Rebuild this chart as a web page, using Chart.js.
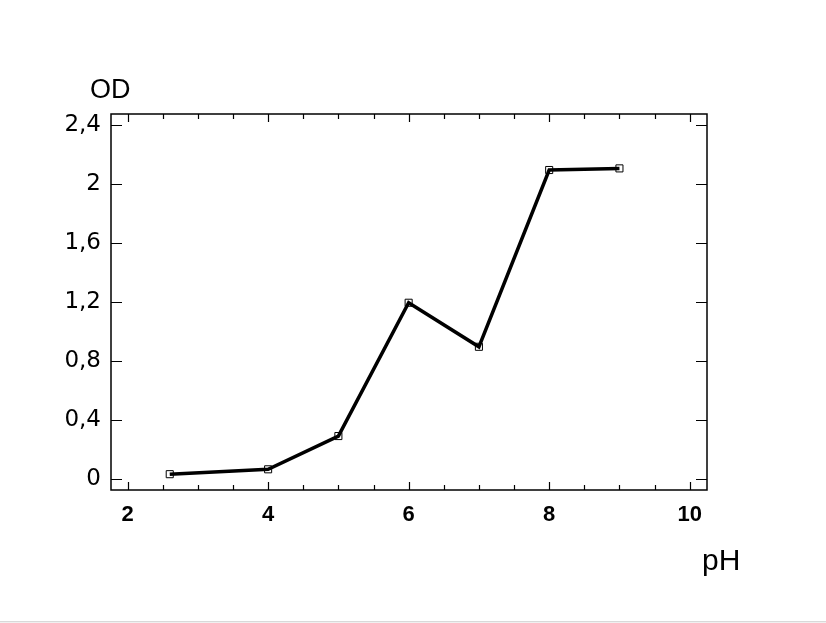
<!DOCTYPE html>
<html>
<head>
<meta charset="utf-8">
<script src="https://cdn.jsdelivr.net/npm/chart.js@4.4.1/dist/chart.umd.min.js"></script>
<style>
  html, body { margin: 0; padding: 0; background: #f0f0f0; }
  #wrap { width: 826px; height: 621px; background: #fff; border-bottom: 1px solid #d9d9d9; position: relative; }
  canvas { display: block; }
</style>
</head>
<body>
<div id="wrap"><canvas id="c" width="826" height="621"></canvas></div>
<script>
// Data
const phValues = [2.6, 4, 5, 6, 7, 8, 9];
const odValues = [0.035, 0.068, 0.293, 1.195, 0.897, 2.093, 2.104];
const xTickValues = [2, 4, 6, 8, 10];
const xMinorTickValues = [2.5, 3, 3.5, 4.5, 5, 5.5, 6.5, 7, 7.5, 8.5, 9, 9.5];
const yTickValues = [0, 0.4, 0.8, 1.2, 1.6, 2, 2.4];
const xTitle = 'pH';
const yTitle = 'OD';

const framePlugin = {
  id: 'frame',
  afterDatasetsDraw(chart) {
    const { ctx, chartArea: a, scales } = chart;
    const xs = scales.x, ys = scales.y;
    ctx.save();
    ctx.strokeStyle = '#000';
    ctx.lineWidth = 1.5;
    ctx.strokeRect(a.left, a.top, a.right - a.left, a.bottom - a.top);
    ctx.lineWidth = 1.2;
    ctx.beginPath();
    xTickValues.forEach(v => {
      const px = Math.round(xs.getPixelForValue(v)) + 0.5;
      ctx.moveTo(px, a.bottom); ctx.lineTo(px, a.bottom - 8);
      ctx.moveTo(px, a.top); ctx.lineTo(px, a.top + 8);
    });
    xMinorTickValues.forEach(v => {
      const px = Math.round(xs.getPixelForValue(v)) + 0.5;
      ctx.moveTo(px, a.bottom); ctx.lineTo(px, a.bottom - 5);
      ctx.moveTo(px, a.top); ctx.lineTo(px, a.top + 5);
    });
    yTickValues.forEach(v => {
      const py = Math.round(ys.getPixelForValue(v)) + 0.5;
      ctx.moveTo(a.left, py); ctx.lineTo(a.left + 11, py);
      ctx.moveTo(a.right, py); ctx.lineTo(a.right - 11, py);
    });
    ctx.stroke();
    ctx.fillStyle = '#000';
    ctx.textBaseline = 'alphabetic';
    ctx.textAlign = 'left';
    ctx.font = '27px "Liberation Sans", Arial, sans-serif';
    ctx.fillText(yTitle, 90, 98);
    ctx.font = '30px "Liberation Sans", Arial, sans-serif';
    ctx.fillText(xTitle, 702, 570);
    ctx.restore();
  }
};

const fmt = v => String(Math.round(v * 10) / 10).replace('.', ',');

new Chart(document.getElementById('c'), {
  type: 'scatter',
  data: {
    datasets: [{
      data: phValues.map((x, i) => ({ x, y: odValues[i] })),
      showLine: true,
      borderColor: '#000',
      borderWidth: 3.5,
      pointStyle: 'rect',
      pointRadius: 5,
      pointBorderWidth: 1,
      pointBorderColor: '#000',
      pointBackgroundColor: 'rgba(0,0,0,0)',
      tension: 0
    }]
  },
  options: {
    responsive: false,
    animation: false,
    devicePixelRatio: 1,
    layout: { padding: { top: 114, right: 119, left: 0, bottom: 0 } },
    plugins: { legend: { display: false }, tooltip: { enabled: false } },
    scales: {
      x: {
        type: 'linear',
        min: 1.764, max: 10.246,
        afterBuildTicks: s => { s.ticks = xTickValues.map(v => ({ value: v })); },
        afterFit: s => { s.height = 131; },
        grid: { display: false, drawTicks: false },
        border: { display: false },
        ticks: {
          padding: 12,
          color: '#000',
          font: { family: '"Liberation Sans", Arial, sans-serif', size: 22, weight: 'bold' },
          callback: v => fmt(v)
        }
      },
      y: {
        type: 'linear',
        min: -0.072, max: 2.472,
        afterBuildTicks: s => { s.ticks = yTickValues.map(v => ({ value: v })); },
        afterFit: s => { s.width = 111; },
        grid: { display: false, drawTicks: false },
        border: { display: false },
        ticks: {
          padding: 10,
          color: '#000',
          font: { family: '"DejaVu Sans", Verdana, sans-serif', size: 23 },
          callback: v => fmt(v)
        }
      }
    }
  },
  plugins: [framePlugin]
});
</script>
</body>
</html>
